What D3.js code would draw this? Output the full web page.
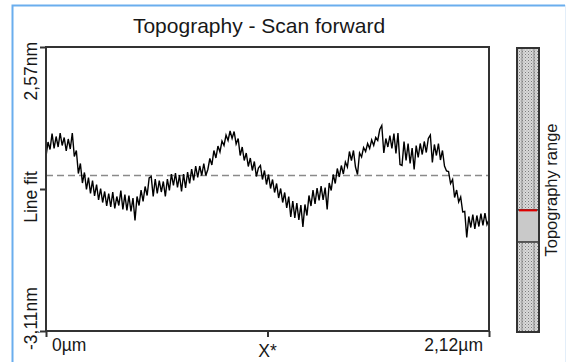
<!DOCTYPE html>
<html>
<head>
<meta charset="utf-8">
<script src="https://cdn.jsdelivr.net/npm/d3@7"></script>
<style>
  html, body { margin: 0; padding: 0; background: #fff; }
  svg { display: block; }
  text { font-family: "Liberation Sans", Arial, sans-serif; fill: #181818; }
</style>
</head>
<body>
<svg id="chart" width="568" height="362"></svg>
<script>
// Scan line profile (nm), sampled evenly across the 2.12 µm scan
const profileNm = [
  0.38, 0.67, 0.52, 0.84, 0.54, 0.78, 0.57, 0.85, 0.60, 0.76,
  0.49, 0.73, 0.53, 0.85, 0.38, 0.50, 0.04, 0.24, -0.15, 0.06,
  -0.28, -0.04, -0.36, -0.10, -0.41, -0.18, -0.49, -0.26, -0.54, -0.32,
  -0.61, -0.36, -0.63, -0.33, -0.66, -0.42, -0.60, -0.30, -0.68, -0.38,
  -0.70, -0.40, -0.72, -0.45, -0.90, -0.42, -0.60, -0.29, -0.52, -0.22,
  -0.40, -0.05, -0.02, -0.42, -0.07, -0.36, -0.10, -0.33, -0.12, -0.42,
  -0.07, -0.30, 0.03, -0.20, 0.05, -0.24, 0.01, -0.32, 0.03, -0.25,
  0.07, -0.16, 0.13, -0.10, 0.19, -0.04, 0.19, 0.00, 0.24, 0.00,
  0.12, 0.34, 0.21, 0.50, 0.35, 0.59, 0.47, 0.69, 0.60, 0.81,
  0.70, 0.89, 0.74, 0.88, 0.63, 0.74, 0.40, 0.57, 0.30, 0.45,
  0.18, 0.35, 0.10, 0.28, -0.02, 0.15, 0.20, -0.08, 0.10, -0.18,
  0.02, -0.26, -0.08, -0.34, -0.16, -0.45, -0.26, -0.54, -0.34, -0.65,
  -0.42, -0.83, -0.51, -0.85, -0.55, -0.89, -0.59, -1.03, -0.58, -0.80,
  -0.40, -0.61, -0.29, -0.57, -0.25, -0.50, -0.21, -0.49, -0.24, -0.68,
  -0.15, -0.30, 0.02, -0.16, 0.14, -0.03, 0.20, 0.03, 0.27, 0.17,
  0.48, 0.30, 0.50, 0.17, 0.02, 0.45, 0.37, 0.56, 0.48, 0.64,
  0.54, 0.71, 0.60, 0.76, 0.70, 0.92, 1.00, 0.45, 0.74, 0.57,
  0.80, 0.54, 0.84, 0.44, 0.85, 0.22, 0.20, 0.68, 0.30, 0.64,
  0.24, 0.55, 0.12, 0.60, 0.36, 0.64, 0.42, 0.68, 0.46, 0.74,
  0.81, 0.26, 0.62, 0.40, 0.64, 0.31, 0.50, 0.19, 0.09, 0.08,
  -0.16, -0.08, -0.44, -0.29, -0.53, -0.43, -0.73, -0.72, -1.24, -0.82,
  -1.04, -0.78, -1.07, -0.80, -1.02, -0.76, -1.00, -0.75, -0.98, -0.88
];

// Axis extents and labels
const scanLengthUm = 2.12;
const zRangeNm = [-3.11, 2.57];
const xTickLabels = ["0\u00b5m", "X*", "2,12\u00b5m"];
const yTickLabels = ["-3,11nm", "Line fit", "2,57nm"];
const fitLevelNm = 0;

// Position of this line's height window inside the full topography range (0 = bottom, 1 = top)
const rangeWindow = [0.317, 0.430];

const svg = d3.select("#chart");

// Outer panel frame
svg.append("path")
  .attr("d", "M12.5,362 V5.5 H565")
  .attr("fill", "none").attr("stroke", "#6aaeee").attr("stroke-width", 2);
svg.append("line")
  .attr("x1", 565.5).attr("x2", 565.5).attr("y1", 5).attr("y2", 362)
  .attr("stroke", "#e3eef9").attr("stroke-width", 1);

const plot = { left: 46, right: 489, top: 47, bottom: 331 };

const x = d3.scaleLinear().domain([0, scanLengthUm]).range([plot.left, plot.right]);
const y = d3.scaleLinear().domain(zRangeNm).range([plot.bottom, plot.top]);

// Title
svg.append("text")
  .attr("x", 259).attr("y", 33)
  .attr("text-anchor", "middle")
  .style("font-size", "21px")
  .text("Topography - Scan forward");

// Fit level (dashed)
svg.append("line")
  .attr("x1", plot.left).attr("x2", plot.right)
  .attr("y1", y(fitLevelNm)).attr("y2", y(fitLevelNm))
  .attr("stroke", "#8a8a8a").attr("stroke-width", 1.4)
  .attr("stroke-dasharray", "7,4");

// Profile line
const step = scanLengthUm / (profileNm.length - 1);
const line = d3.line()
  .x((d, i) => x(i * step))
  .y(d => y(d));
svg.append("path")
  .datum(profileNm)
  .attr("d", line)
  .attr("fill", "none")
  .attr("stroke", "#000")
  .attr("stroke-width", 1.4)
  .attr("stroke-linejoin", "miter");

// Ticks
const yMid = (zRangeNm[0] + zRangeNm[1]) / 2;
const yAxis = d3.axisLeft(y).tickValues([zRangeNm[0], yMid, zRangeNm[1]]).tickSize(6).tickFormat("");
const xAxis = d3.axisBottom(x).tickValues([0, scanLengthUm / 2, scanLengthUm]).tickSize(6).tickFormat("");
const gy = svg.append("g").attr("transform", `translate(${plot.left},0)`).call(yAxis);
const gx = svg.append("g").attr("transform", `translate(0,${plot.bottom})`).call(xAxis);
[gy, gx].forEach(g => {
  g.select(".domain").remove();
  g.selectAll(".tick line").attr("stroke", "#333").attr("stroke-width", 2);
});

// Plot frame
svg.append("rect")
  .attr("x", plot.left).attr("y", plot.top)
  .attr("width", plot.right - plot.left).attr("height", plot.bottom - plot.top)
  .attr("fill", "none").attr("stroke", "#333").attr("stroke-width", 2);

// Y labels (rotated)
const yLab = svg.append("g").style("font-size", "17.5px");
yLab.append("text")
  .attr("transform", `translate(37,${y(zRangeNm[1]) - 5}) rotate(-90)`)
  .attr("text-anchor", "end").text(yTickLabels[2]);
yLab.append("text")
  .attr("transform", `translate(37,${y(yMid) + 8}) rotate(-90)`)
  .attr("text-anchor", "middle").text(yTickLabels[1]);
yLab.append("text")
  .attr("transform", `translate(37,${y(zRangeNm[0]) + 19}) rotate(-90)`)
  .attr("text-anchor", "start").text(yTickLabels[0]);

// X labels
const xLab = svg.append("g").style("font-size", "17.5px");
xLab.append("text").attr("x", x(0) + 6).attr("y", 351).attr("text-anchor", "start").text(xTickLabels[0]);
xLab.append("text").attr("x", x(scanLengthUm / 2)).attr("y", 357).attr("text-anchor", "middle").text(xTickLabels[1]);
xLab.append("text").attr("x", x(scanLengthUm) - 6).attr("y", 351).attr("text-anchor", "end").text(xTickLabels[2]);

// Topography range bar
const bar = { x: 517, w: 22, top: 48, bottom: 332 };
const defs = svg.append("defs");
const pat = defs.append("pattern")
  .attr("id", "stipple").attr("patternUnits", "userSpaceOnUse")
  .attr("width", 3).attr("height", 3);
pat.append("rect").attr("width", 3).attr("height", 3).attr("fill", "#dadada");
pat.append("rect").attr("x", 0).attr("y", 0).attr("width", 1).attr("height", 1).attr("fill", "#7c7c7c");
pat.append("rect").attr("x", 1.5).attr("y", 1.5).attr("width", 1).attr("height", 1).attr("fill", "#9a9a9a");

const rb = d3.scaleLinear().domain([0, 1]).range([bar.bottom, bar.top]);

svg.append("rect")
  .attr("x", bar.x).attr("y", bar.top).attr("width", bar.w).attr("height", bar.bottom - bar.top)
  .attr("fill", "url(#stipple)");
[bar.x + 5, bar.x + bar.w - 5].forEach(lx => {
  svg.append("line").attr("x1", lx).attr("x2", lx).attr("y1", bar.top).attr("y2", bar.bottom)
    .attr("stroke", "#8a8a8a").attr("stroke-width", 1);
});
svg.append("rect")
  .attr("x", bar.x + 1).attr("y", rb(rangeWindow[1]))
  .attr("width", bar.w - 2).attr("height", rb(rangeWindow[0]) - rb(rangeWindow[1]))
  .attr("fill", "#c9c9c9");
svg.append("line")
  .attr("x1", bar.x).attr("x2", bar.x + bar.w)
  .attr("y1", rb(rangeWindow[0])).attr("y2", rb(rangeWindow[0]))
  .attr("stroke", "#333").attr("stroke-width", 1.5);
svg.append("line")
  .attr("x1", bar.x).attr("x2", bar.x + bar.w)
  .attr("y1", rb(rangeWindow[1])).attr("y2", rb(rangeWindow[1]))
  .attr("stroke", "#333").attr("stroke-width", 1.5);
svg.append("line")
  .attr("x1", bar.x + 2).attr("x2", bar.x + bar.w - 2)
  .attr("y1", rb(rangeWindow[1]) + 0.5).attr("y2", rb(rangeWindow[1]) + 0.5)
  .attr("stroke", "#e00000").attr("stroke-width", 2);
svg.append("rect")
  .attr("x", bar.x).attr("y", bar.top).attr("width", bar.w).attr("height", bar.bottom - bar.top)
  .attr("fill", "none").attr("stroke", "#333").attr("stroke-width", 2);

svg.append("text")
  .attr("transform", `translate(557,190) rotate(-90)`)
  .attr("text-anchor", "middle")
  .style("font-size", "16.5px")
  .text("Topography range");
</script>
</body>
</html>
